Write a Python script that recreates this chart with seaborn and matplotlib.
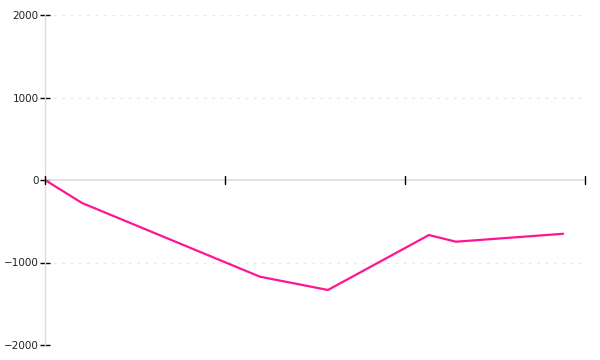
import matplotlib
matplotlib.use("Agg")
import matplotlib.pyplot as plt
import seaborn as sns
import pandas as pd

x_vals = [0.0, 0.206, 1.194, 1.572, 2.133, 2.283, 2.878]
y_vals = [0, -279, -1172, -1333, -667, -748, -652]
y_ticks = [-2000, -1000, 0, 1000, 2000]
x_ticks = [0, 1, 2, 3]

sns.set_style("white")
plt.rcParams['font.family'] = ['DejaVu Sans']

fig = plt.figure(figsize=(6, 3.6), dpi=100)
ax = fig.add_axes([45/600, 1-345/360, 540/600, 330/360])

df = pd.DataFrame({"x": x_vals, "y": y_vals})
sns.lineplot(data=df, x="x", y="y", ax=ax, color="#ff1493", linewidth=1.6)

ax.set_xlim(0, 3)
ax.set_ylim(-2000, 2000)
ax.set_yticks(y_ticks)
ax.set_yticklabels([f"{v}".replace("-", "\u2212") for v in y_ticks])
ax.set_xticks(x_ticks)
ax.set_xticklabels([])
ax.set_xlabel("")
ax.set_ylabel("")

for s in ["top", "right", "bottom"]:
    ax.spines[s].set_visible(False)
ax.spines["left"].set_color("#dddddd")
ax.spines["left"].set_linewidth(1)

for v in y_ticks:
    if v == 0:
        ax.axhline(0, color="#dddddd", linewidth=1.2, zorder=1)
    else:
        ax.axhline(v, color="#e8e8e8", linewidth=1, linestyle=(0, (2, 4)), zorder=0)

ax.tick_params(axis="y", direction="inout", length=7, width=1, color="black",
               labelsize=7.5, labelcolor="#222222", pad=1, left=True)
ax.tick_params(axis="x", bottom=False)

# vertical tick marks on the zero axis
for xv in x_ticks:
    ax.plot([xv, xv], [-50, 50], color="black", linewidth=1, zorder=3, clip_on=False)

fig.savefig("out.png", dpi=100)
